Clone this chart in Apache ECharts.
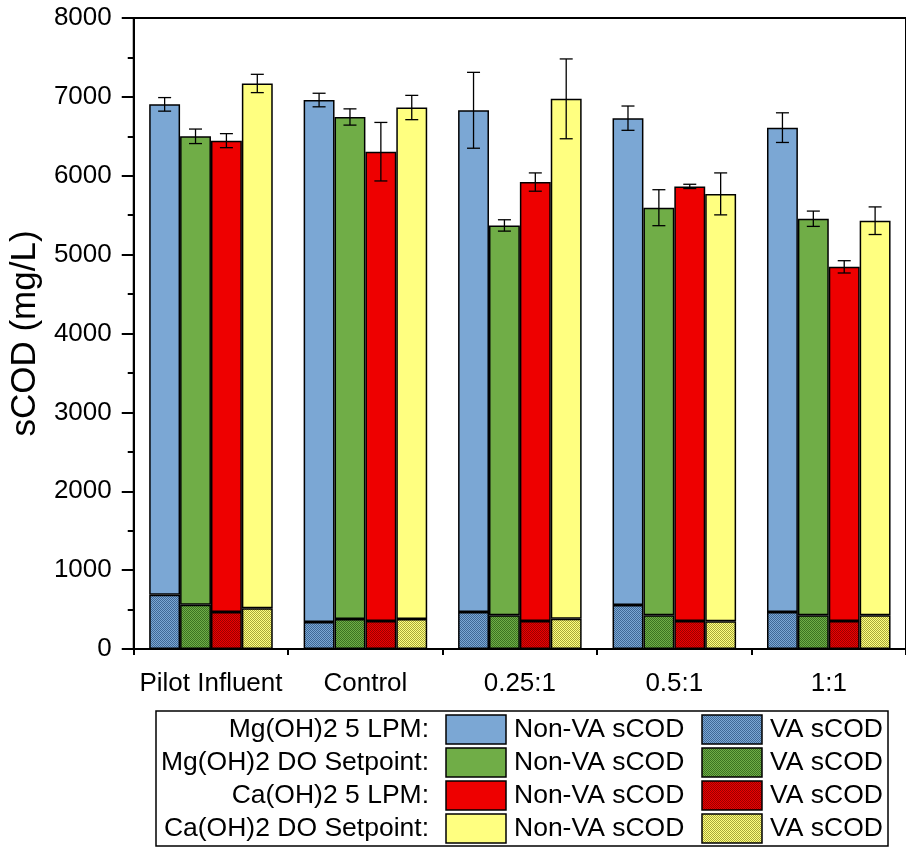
<!DOCTYPE html>
<html>
<head>
<meta charset="utf-8">
<script src="https://cdn.jsdelivr.net/npm/echarts@6/dist/echarts.min.js"></script>
<style>
html,body{margin:0;padding:0;background:#fff;}
#chart{width:906px;height:848px;}
</style>
</head>
<body>
<div id="chart"></div>
<script>
// ---- data ----
const categories = ['Pilot Influent', 'Control', '0.25:1', '0.5:1', '1:1'];
const groupNames = ['Mg(OH)2 5 LPM:', 'Mg(OH)2 DO Setpoint:', 'Ca(OH)2 5 LPM:', 'Ca(OH)2 DO Setpoint:'];
const yTicks = [0, 1000, 2000, 3000, 4000, 5000, 6000, 7000, 8000];

// total sCOD (top of bar)
const mg5Total   = [6905, 6960, 6830, 6730, 6610];
const mgDOTotal  = [6500, 6745, 5370, 5595, 5455];
const ca5Total   = [6445, 6305, 5920, 5865, 4845];
const caDOTotal  = [7170, 6865, 6975, 5770, 5430];
// error (+/-)
const mg5Err  = [86, 86, 481, 154, 188];
const mgDOErr = [92, 103, 72, 228, 97];
const ca5Err  = [89, 371, 116, 27, 78];
const caDOErr = [116, 154, 506, 266, 175];
// VA sCOD (bottom portion)
const mg5VA  = [688, 342, 469, 558, 469];
const mgDOVA = [561, 380, 427, 427, 427];
const ca5VA  = [469, 355, 355, 355, 355];
const caDOVA = [516, 380, 384, 351, 427];

// ---- styles ----
const FONT = '"Liberation Sans", Arial, sans-serif';
const baseColors = ['#7BA7D4', '#70AD47', '#EE0000', '#FFFF80'];
const darkColors = ['#3F6896', '#3B7322', '#9A0000', '#A8A83A'];

function makePattern(base, dark) {
  const c = document.createElement('canvas');
  c.width = 4; c.height = 4;
  const ctx = c.getContext('2d');
  ctx.fillStyle = base; ctx.fillRect(0, 0, 4, 4);
  ctx.fillStyle = dark;
  for (let y = 0; y < 4; y++) for (let x = 0; x < 4; x++) {
    if ((x + y) % 2 === 0) ctx.fillRect(x, y, 1, 1);
  }
  return { image: c, repeat: 'repeat' };
}
const patterns = baseColors.map((b, i) => makePattern(b, darkColors[i]));

const totals = [mg5Total, mgDOTotal, ca5Total, caDOTotal];
const errs = [mg5Err, mgDOErr, ca5Err, caDOErr];
const vas = [mg5VA, mgDOVA, ca5VA, caDOVA];

const series = [];
for (let g = 0; g < 4; g++) {
  series.push({
    name: groupNames[g] + ' VA', type: 'bar', stack: 's' + g,
    barWidth: '20%', barGap: '0%',
    data: vas[g],
    itemStyle: { color: patterns[g], borderColor: '#000', borderWidth: 1.5 },
    z: 2
  });
  series.push({
    name: groupNames[g] + ' Non-VA', type: 'bar', stack: 's' + g,
    barWidth: '20%', barGap: '0%',
    data: totals[g].map((t, i) => t - vas[g][i]),
    itemStyle: { color: baseColors[g], borderColor: '#000', borderWidth: 1.5 },
    z: 2
  });
}
for (let g = 0; g < 4; g++) {
  series.push({
    type: 'custom', z: 5,
    data: categories.map((c, i) => [i, totals[g][i], errs[g][i]]),
    renderItem: (function (gi) {
      return function (params, api) {
        const xi = api.value(0), v = api.value(1), e = api.value(2);
        const band = api.size([1, 0])[0];
        const c = api.coord([xi, v]);
        const cx = c[0] + (gi - 1.5) * band * 0.2;
        const top = api.coord([xi, v + e])[1];
        const bot = api.coord([xi, v - e])[1];
        const hw = 6.5;
        const st = { stroke: '#000', lineWidth: 1.3 };
        return {
          type: 'group', children: [
            { type: 'line', shape: { x1: cx, y1: top, x2: cx, y2: bot }, style: st },
            { type: 'line', shape: { x1: cx - hw, y1: top, x2: cx + hw, y2: top }, style: st },
            { type: 'line', shape: { x1: cx - hw, y1: bot, x2: cx + hw, y2: bot }, style: st }
          ]
        };
      };
    })(g)
  });
}

// ---- legend (graphic) ----
const LF = '26.5px ' + FONT;
const rowY = [729.5, 762.5, 795.5, 828.5];
const legendEls = [
  { type: 'rect', shape: { x: 156, y: 711, width: 732, height: 135 }, style: { fill: '#fff', stroke: '#000', lineWidth: 1.5 }, z: 10 }
];
for (let g = 0; g < 4; g++) {
  legendEls.push({ type: 'text', x: 429, y: rowY[g], style: { text: groupNames[g], font: LF, fill: '#000', align: 'right', verticalAlign: 'middle' }, z: 11 });
  legendEls.push({ type: 'rect', shape: { x: 446, y: rowY[g] - 14.5, width: 60, height: 29 }, style: { fill: baseColors[g], stroke: '#000', lineWidth: 1.5 }, z: 11 });
  legendEls.push({ type: 'text', x: 514, y: rowY[g], style: { text: 'Non-VA sCOD', font: LF, fill: '#000', align: 'left', verticalAlign: 'middle' }, z: 11 });
  legendEls.push({ type: 'rect', shape: { x: 702, y: rowY[g] - 14.5, width: 60, height: 29 }, style: { fill: patterns[g], stroke: '#000', lineWidth: 1.5 }, z: 11 });
  legendEls.push({ type: 'text', x: 770, y: rowY[g], style: { text: 'VA sCOD', font: LF, fill: '#000', align: 'left', verticalAlign: 'middle' }, z: 11 });
}

const chart = echarts.init(document.getElementById('chart'), null, { renderer: 'canvas' });
chart.setOption({
  animation: false,
  backgroundColor: '#fff',
  textStyle: { fontFamily: FONT },
  grid: { left: 131, top: 18, right: -7, bottom: 199, show: true, borderColor: '#000', borderWidth: 2, containLabel: false },
  xAxis: [
    {
      type: 'category', data: categories, position: 'bottom',
      axisLine: { lineStyle: { color: '#000', width: 2 } },
      axisTick: { alignWithLabel: true, length: 12, inside: false, lineStyle: { color: '#000', width: 2 } },
      axisLabel: { color: '#000', fontSize: 26, margin: 22, fontFamily: FONT, interval: 0 },
      splitLine: { show: false }
    },
    {
      type: 'category', data: categories, position: 'bottom', gridIndex: 0,
      axisLine: { show: false },
      axisTick: { show: true, length: 6, lineStyle: { color: '#000', width: 2 } },
      axisLabel: { show: false },
      splitLine: { show: false }
    }
  ],
  yAxis: {
    type: 'value', min: yTicks[0], max: yTicks[yTicks.length - 1], interval: 1000,
    name: 'sCOD (mg/L)', nameLocation: 'middle', nameGap: 86, nameRotate: 90,
    nameTextStyle: { color: '#000', fontSize: 35, fontFamily: FONT },
    axisLine: { show: true, lineStyle: { color: '#000', width: 2 } },
    axisTick: { show: true, length: 12, lineStyle: { color: '#000', width: 2 } },
    minorTick: { show: true, splitNumber: 2, length: 6, lineStyle: { color: '#000', width: 2 } },
    axisLabel: { color: '#000', fontSize: 26, margin: 22, fontFamily: FONT, formatter: function (v) { return String(v); } },
    splitLine: { show: false }
  },
  graphic: legendEls,
  series: series
});
</script>
</body>
</html>
